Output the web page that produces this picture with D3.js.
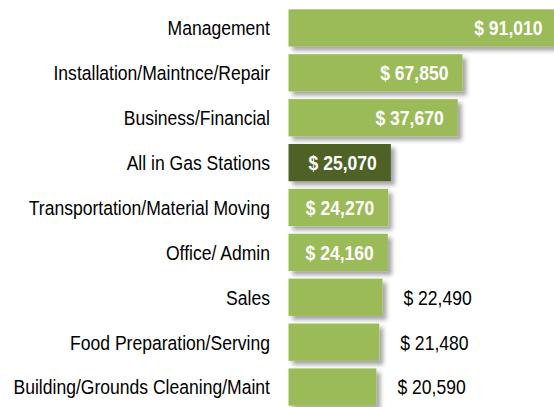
<!DOCTYPE html>
<html>
<head>
<meta charset="utf-8">
<script src="https://cdn.jsdelivr.net/npm/d3@7"></script>
<style>
  body { margin: 0; background: #fff; }
  text { font-family: Arial, "Liberation Sans", sans-serif; }
</style>
</head>
<body>
<div id="chart"></div>
<script>
// Occupations and median wages
const categories = [
    'Management',
    'Installation/Maintnce/Repair',
    'Business/Financial',
    'All in Gas Stations',
    'Transportation/Material Moving',
    'Office/ Admin',
    'Sales ',
    'Food Preparation/Serving',
    'Building/Grounds Cleaning/Maint'
];
const wages = [91010, 67850, 37670, 25070, 24270, 24160, 22490, 21480, 20590];
const highlight = ['All in Gas Stations'];

// Bar axis is not linear in the original (broken scale), so use a piecewise scale
const axisBreaks = [0, 20000, 25000, 38000, 68000, 91000];
const axisBreakLengths = [0, 86, 102, 171, 174, 268];

const config = {
    width: 554,
    height: 407,
    barLeft: 288.5,
    labelRight: 270,
    fontSize: 19.5,
    squeeze: 0.9
};

const svg = d3.select('#chart').append('svg')
    .attr('width', config.width)
    .attr('height', config.height);

// soft drop shadow under each bar
const filter = svg.append('defs').append('filter')
    .attr('id', 'shadow')
    .attr('x', '-10%').attr('y', '-20%')
    .attr('width', '130%').attr('height', '160%');
filter.append('feDropShadow')
    .attr('dx', 4).attr('dy', 4)
    .attr('stdDeviation', 2)
    .attr('flood-color', '#000')
    .attr('flood-opacity', 0.35);

const x = d3.scaleLinear()
    .domain(axisBreaks)
    .range(axisBreakLengths.map(d => config.barLeft + d));

const y = d3.scaleBand()
    .domain(categories)
    .range([5.5, 409.5])
    .paddingInner(0.17)
    .paddingOuter(0.085);

const data = categories.map((c, i) => ({ name: c, value: wages[i] }));
const fmt = d => '$ ' + d3.format(',')(d);
const inside = d => d.value >= 24000;

// Bars
svg.selectAll('.bar')
    .data(data)
    .join('rect')
    .attr('class', 'bar')
    .attr('x', config.barLeft)
    .attr('y', d => y(d.name))
    .attr('width', d => x(d.value) - config.barLeft)
    .attr('height', y.bandwidth())
    .attr('fill', d => highlight.includes(d.name) ? '#4f6228' : '#9bbb59')
    .attr('filter', 'url(#shadow)');

// Category labels (text is a bit condensed in the original)
svg.selectAll('.cat-label')
    .data(data)
    .join('text')
    .attr('class', 'cat-label')
    .attr('transform', d => `translate(${config.labelRight},${y(d.name) + y.bandwidth() / 2}) scale(${config.squeeze},1)`)
    .attr('text-anchor', 'end')
    .attr('dy', '0.38em')
    .attr('font-size', config.fontSize)
    .attr('fill', '#000')
    .text(d => d.name);

// Value labels: inside end for the long bars, outside for the rest
svg.selectAll('.val-label')
    .data(data)
    .join('text')
    .attr('class', 'val-label')
    .attr('transform', d => {
        const xPos = inside(d) ? x(d.value) - 14 : x(d.value) + 21;
        return `translate(${xPos},${y(d.name) + y.bandwidth() / 2}) scale(${config.squeeze},1)`;
    })
    .attr('text-anchor', d => inside(d) ? 'end' : 'start')
    .attr('dy', '0.38em')
    .attr('font-size', config.fontSize)
    .attr('font-weight', d => inside(d) ? 'bold' : 'normal')
    .attr('fill', d => inside(d) ? '#fff' : '#000')
    .text(d => fmt(d.value));
</script>
</body>
</html>
